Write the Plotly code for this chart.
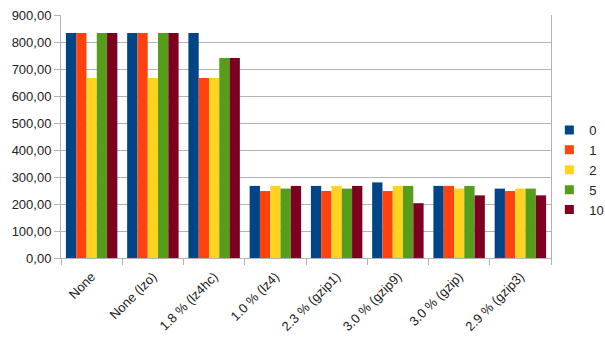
import plotly.graph_objects as go

categories = ["None", "None (lzo)", "1.8 % (lz4hc)", "1.0 % (lz4)", "2.3 % (gzip1)",
              "3.0 % (gzip9)", "3.0 % (gzip)", "2.9 % (gzip3)"]
series_names = ["0", "1", "2", "5", "10"]
s0 = [833.33, 833.33, 833.33, 267, 267, 280, 267, 257]
s1 = [833.33, 833.33, 666.67, 248, 248, 248, 267, 248]
s2 = [666.67, 666.67, 666.67, 267, 267, 267, 257, 257]
s5 = [833.33, 833.33, 740.74, 257, 257, 267, 267, 257]
s10 = [833.33, 833.33, 740.74, 267, 267, 203, 232, 232]
colors = ["#004586", "#ff420e", "#ffd320", "#579d1c", "#7e0021"]

fig = go.Figure()
for name, vals, c in zip(series_names, [s0, s1, s2, s5, s10], colors):
    fig.add_trace(go.Bar(x=categories, y=vals, name=name, marker_color=c,
                         marker_line_width=0, legendgroup=name, showlegend=False))
# legend entries with small square swatches
for name, c in zip(series_names, colors):
    fig.add_trace(go.Scatter(x=[None], y=[None], mode="markers", name=name,
                             legendgroup=name,
                             marker=dict(symbol="square", size=9, color=c)))

fig.update_layout(
    width=605, height=340,
    margin=dict(l=61, r=54, t=15, b=82, autoexpand=False),
    paper_bgcolor="white", plot_bgcolor="white",
    font=dict(family="Liberation Sans", size=13, color="#222"),
    barmode="group", bargap=0.16, bargroupgap=0,
    separators=", ",
    legend=dict(xref="container", x=0.908, xanchor="left",
                yref="container", y=0.5, yanchor="middle",
                bgcolor="rgba(0,0,0,0)",
                font=dict(size=13), tracegroupgap=0, itemwidth=30),
    showlegend=True,
)
fig.update_xaxes(tickangle=-45, tickson="boundaries", ticks="outside", ticklen=6,
                 tickcolor="#b3b3b3", showline=True, linecolor="#b3b3b3",
                 showgrid=False, automargin=False, ticklabelstandoff=5)
fig.update_yaxes(range=[0, 900], dtick=100, tickformat=".2f", ticks="outside",
                 ticklen=6, tickcolor="#b3b3b3", showline=True, mirror=True,
                 linecolor="#b3b3b3", gridcolor="#b3b3b3", gridwidth=1,
                 zeroline=False, automargin=False)

fig.write_html("out.html")
